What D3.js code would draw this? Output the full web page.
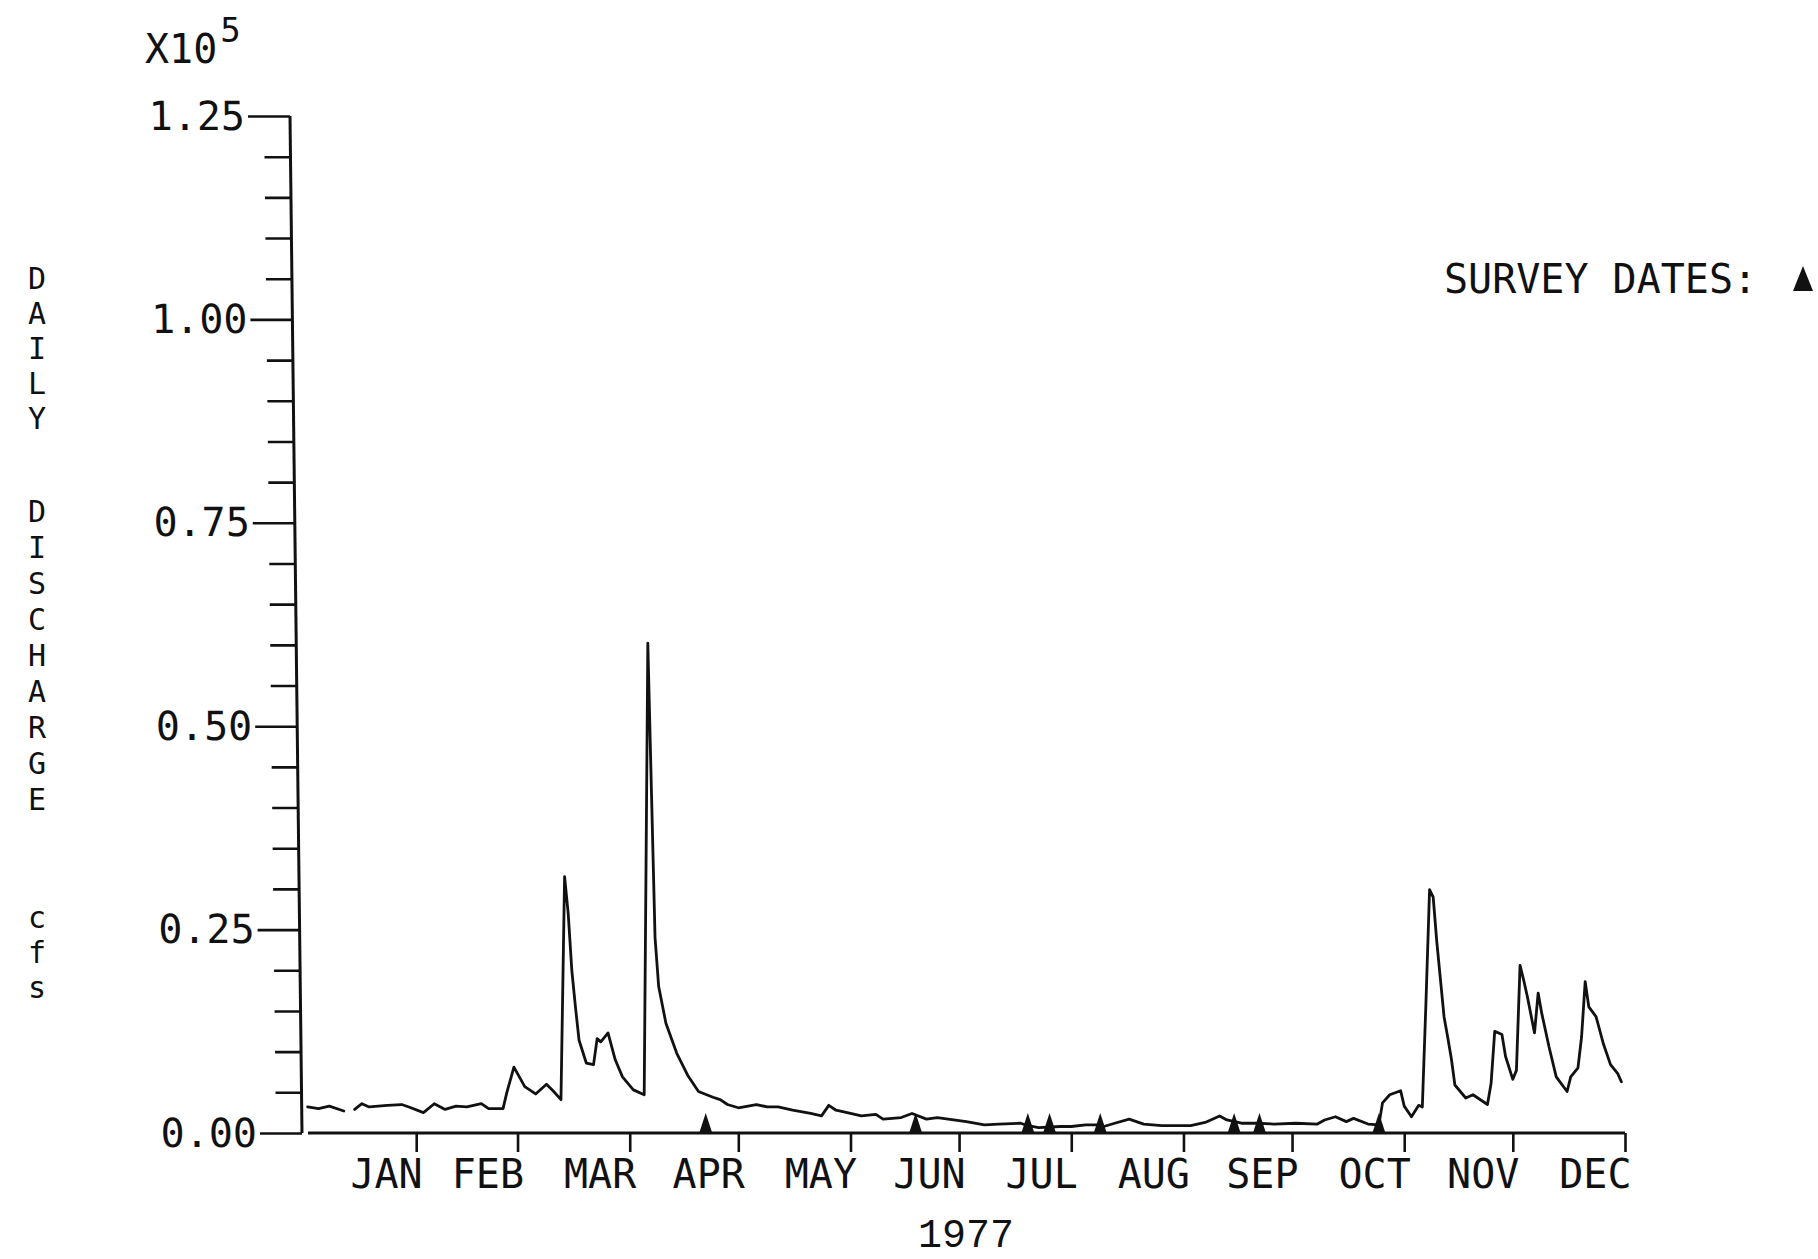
<!DOCTYPE html>
<html>
<head>
<meta charset="utf-8">
<script src="https://cdn.jsdelivr.net/npm/d3@7"></script>
<style>
  html, body { margin: 0; padding: 0; background: #ffffff; }
  svg { display: block; }
  text { font-family: "DejaVu Sans Mono", monospace; fill: #111; }
</style>
</head>
<body>
<svg id="chart" width="1818" height="1259"></svg>
<script>
// Daily discharge, 1977, in units of 1e5 cfs (day 0 = Jan 1)
const dayOfYear = [
  1, 4, 7, 11, 12, 14, 16, 18, 23, 27, 29, 33, 36, 39, 42, 45, 49, 51, 55, 56,
  58, 59, 61, 64, 67, 69, 71, 72, 73, 74, 75, 76, 78, 80, 81, 82, 84, 86, 88, 91,
  94, 95, 96, 97, 98, 100, 103, 106, 109, 113, 115, 117, 120, 125, 128, 131, 135, 140, 143, 145,
  147, 151, 154, 158, 160, 165, 168, 172, 175, 178, 183, 188, 192, 198, 200, 203, 209, 212, 216, 219,
  221, 224, 228, 232, 237, 245, 249, 253, 255, 259, 263, 268, 274, 280, 282, 285, 288, 290, 294, 297,
  298, 300, 303, 304, 306, 308, 309, 310, 311, 312, 313, 315, 316, 317, 318, 321, 323, 327, 328, 329,
  331, 332, 334, 335, 336, 337, 338, 340, 341, 342, 344, 346, 349, 350, 352, 353, 354, 355, 357, 359,
  361, 363, 364
];
const dischargeE5 = [
  0.032, 0.030, 0.033, 0.027, null, 0.029, 0.036, 0.032, 0.034, 0.035, 0.032, 0.025, 0.036, 0.029, 0.033, 0.032, 0.036, 0.030, 0.030, 0.049,
  0.081, 0.073, 0.057, 0.048, 0.060, 0.051, 0.041, 0.315, 0.270, 0.200, 0.155, 0.114, 0.086, 0.084, 0.116, 0.112, 0.123, 0.090, 0.069, 0.053,
  0.047, 0.602, 0.420, 0.240, 0.180, 0.135, 0.098, 0.071, 0.051, 0.044, 0.041, 0.035, 0.031, 0.035, 0.032, 0.032, 0.028, 0.024, 0.021, 0.034,
  0.028, 0.024, 0.021, 0.023, 0.017, 0.019, 0.024, 0.017, 0.019, 0.017, 0.014, 0.010, 0.011, 0.012, 0.009, 0.0065, 0.008, 0.008, 0.010, 0.010,
  0.008, 0.012, 0.017, 0.011, 0.009, 0.009, 0.013, 0.021, 0.016, 0.012, 0.012, 0.011, 0.012, 0.011, 0.016, 0.020, 0.014, 0.018, 0.011, 0.010,
  0.037, 0.047, 0.052, 0.033, 0.020, 0.034, 0.032, 0.160, 0.299, 0.290, 0.235, 0.143, 0.118, 0.092, 0.059, 0.043, 0.047, 0.035, 0.061, 0.125,
  0.121, 0.094, 0.066, 0.077, 0.206, 0.188, 0.168, 0.123, 0.172, 0.147, 0.106, 0.069, 0.051, 0.069, 0.080, 0.118, 0.186, 0.155, 0.143, 0.110,
  0.084, 0.073, 0.063
];

// Field survey dates (triangles on the zero line)
const surveyDates = [
  "1977-04-22", "1977-06-19", "1977-07-20", "1977-07-26",
  "1977-08-09", "1977-09-15", "1977-09-22", "1977-10-25"
];

// Month names, each written just left of the tick that closes its month
const monthLabels = ["JAN", "FEB", "MAR", "APR", "MAY", "JUN", "JUL", "AUG", "SEP", "OCT", "NOV", "DEC"];

// Y axis (x10^5 cfs)
const yMajorTicks = [0, 0.25, 0.5, 0.75, 1.0, 1.25];
const yMajorLabels = ["0.00", "0.25", "0.50", "0.75", "1.00", "1.25"];
const yMinorStep = 0.05;

const yearLabel = "1977";
const yTitleWords = ["DAILY", "DISCHARGE", "cfs"];
const legendLabel = "SURVEY DATES:";

// ---------------------------------------------------------------
const svg = d3.select("#chart");
const parseDay = d3.timeParse("%Y-%m-%d");
const yearStart = new Date(1977, 0, 1);
const yearEnd = new Date(1978, 0, 1);

const x = d3.scaleTime().domain([yearStart, yearEnd]).range([304, 1625]);
const y = d3.scaleLinear().domain([0, 1.25]).range([1133, 116]);

const ink = "#111";

const series = dayOfYear.map((d, i) => ({
  date: d3.timeDay.offset(yearStart, d),
  value: dischargeE5[i]
}));

// ---- Y axis (the plotter pen leans slightly, so the axis is sheared)
const y0 = y(0);
const shear = Math.atan(12 / (y(0) - y(1.25))) * 180 / Math.PI;
const yAxisG = svg.append("g")
  .attr("transform", `translate(0,${y0}) skewX(${shear}) translate(0,${-y0})`);

const axisX = 302;
const minorValues = d3.range(0, 1.25 + 1e-9, yMinorStep)
  .filter(v => Math.abs(v / 0.25 - Math.round(v / 0.25)) > 1e-6);

const minorAxis = d3.axisLeft(y).tickValues(minorValues).tickSize(26).tickFormat("");
const majorAxis = d3.axisLeft(y).tickValues(yMajorTicks).tickSize(42).tickPadding(3)
  .tickFormat((d, i) => yMajorLabels[i]);

yAxisG.append("g").attr("transform", `translate(${axisX},0)`).call(minorAxis);
const majG = yAxisG.append("g").attr("transform", `translate(${axisX},0)`).call(majorAxis);

yAxisG.selectAll(".domain").remove();
yAxisG.selectAll(".tick line").attr("stroke", ink).attr("stroke-width", 2.6);
majG.selectAll(".tick text")
  .attr("fill", ink)
  .style("font-family", '"DejaVu Sans Mono", monospace')
  .style("font-size", "40px")
  .attr("dy", null)
  .attr("y", 13);

yAxisG.append("line")
  .attr("x1", axisX).attr("x2", axisX)
  .attr("y1", y(0)).attr("y2", y(1.25))
  .attr("stroke", ink).attr("stroke-width", 3);

// ---- X axis
const monthTicks = d3.timeMonth.range(new Date(1977, 1, 1), new Date(1978, 0, 2));
const xAxis = d3.axisBottom(x).tickValues(monthTicks).tickSize(19)
  .tickFormat((d, i) => monthLabels[i]);
const xG = svg.append("g").attr("transform", `translate(0,${y0})`).call(xAxis);
xG.select(".domain").remove();
xG.selectAll(".tick line").attr("stroke", ink).attr("stroke-width", 2.6);
xG.selectAll(".tick text")
  .attr("fill", ink)
  .style("font-family", '"DejaVu Sans Mono", monospace')
  .style("font-size", "40px")
  .attr("text-anchor", "end")
  .attr("x", 6)
  .attr("dy", null)
  .attr("y", 55);

svg.append("line")
  .attr("x1", 308).attr("x2", x(yearEnd))
  .attr("y1", y0).attr("y2", y0)
  .attr("stroke", ink).attr("stroke-width", 3);

// ---- Discharge trace
const line = d3.line()
  .defined(d => d.value !== null)
  .x(d => x(d.date))
  .y(d => y(d.value));

svg.append("path")
  .datum(series)
  .attr("d", line)
  .attr("fill", "none")
  .attr("stroke", ink)
  .attr("stroke-width", 2.8)
  .attr("stroke-linejoin", "round")
  .attr("stroke-linecap", "round");

// ---- Survey markers
const triW = 13, triH = 20;
svg.append("g").selectAll("path")
  .data(surveyDates.map(parseDay))
  .join("path")
  .attr("d", d => {
    const cx = x(d);
    return `M${cx - triW / 2},${y0} L${cx},${y0 - triH} L${cx + triW / 2},${y0} Z`;
  })
  .attr("fill", ink);

// ---- Labels
svg.append("text")
  .attr("x", 966).attr("y", 1247)
  .attr("text-anchor", "middle")
  .style("font-family", '"Liberation Mono", monospace')
  .style("font-size", "40px")
  .text(yearLabel);

const scaleLabel = svg.append("text").attr("x", 145).attr("y", 63).style("font-size", "40px");
scaleLabel.append("tspan").text("X10");
scaleLabel.append("tspan").attr("dx", 3).attr("dy", -21).style("font-size", "34px").text("5");

svg.append("text")
  .attr("x", 1444).attr("y", 293)
  .style("font-size", "40px")
  .text(legendLabel);
svg.append("path")
  .attr("d", "M1793,291 L1803,266 L1813,291 Z")
  .attr("fill", ink);

// Vertical title: one text per word, its letters stacked one under another
const titleG = svg.append("g").style("font-size", "30px").attr("text-anchor", "middle");
const wordStarts = [289, 522, 928];
const wordPitch = [35, 36, 35];
yTitleWords.forEach((w, wi) => {
  const t = titleG.append("text").attr("x", 37).attr("y", wordStarts[wi]);
  w.split("").forEach((ch, ci) => {
    t.append("tspan")
      .attr("x", 37)
      .attr("dy", ci === 0 ? 0 : wordPitch[wi])
      .text(ch);
  });
});
</script>
</body>
</html>
